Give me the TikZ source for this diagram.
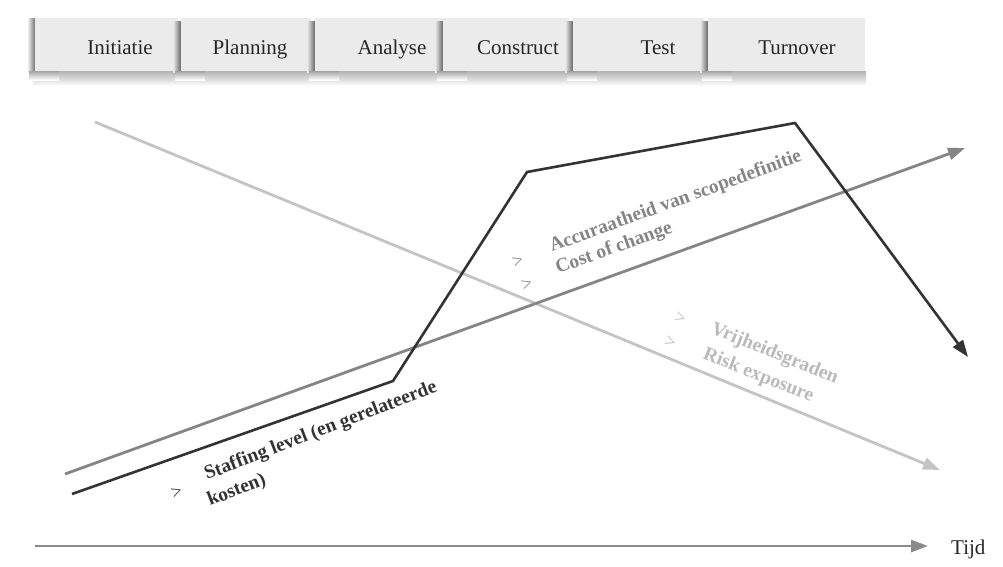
\documentclass[tikz,border=0pt]{standalone}
\usepackage{fontspec}
\setmainfont{Liberation Serif}
\usetikzlibrary{arrows.meta}
\definecolor{boxgray}{HTML}{EBEBEB}
\definecolor{darkline}{HTML}{333333}
\definecolor{midline}{HTML}{858585}
\definecolor{lightline}{HTML}{C4C4C4}
\definecolor{axisline}{HTML}{8A8A8A}
\begin{document}
\begin{tikzpicture}[x=1pt,y=-1pt,
  phaselabel/.style={font=\fontsize{21}{24}\selectfont, text=black!85, inner sep=0pt, anchor=base},
  curvelabel/.style={font=\bfseries\fontsize{19.5}{22}\selectfont, inner sep=0pt, anchor=base west},
  marker/.style={font=\fontsize{19}{20}\selectfont, inner sep=0pt},
  staffline/.style={draw=darkline, line width=2.6pt, line join=miter, -{Triangle[length=17pt,width=12pt]}},
  costline/.style={draw=midline, line width=2.8pt, -{Triangle[length=17pt,width=12pt]}},
  freeline/.style={draw=lightline, line width=2.8pt, -{Triangle[length=17pt,width=12pt]}},
  axisstyle/.style={draw=axisline, line width=2.8pt, -{Triangle[length=17pt,width=12pt]}}
]
\useasboundingbox (0,0) rectangle (1003,566);
\fill[white] (0,0) rectangle (1003,566);

% bottom shadow of the phase bar
\shade[top color=black!30, bottom color=white] (33,71) rectangle (866,86);

% phase boxes
\foreach \i/\l/\r/\c/\t in
  {1/35/178/120/Initiatie, 2/181/311/250/Planning, 3/315/443/392/Analyse,
   4/443/569/518/Construct, 5/573/704/658/Test, 6/708/865/797/Turnover}{
  \ifnum\i=1
    \shade[left color=white, right color=black!55] (\l-8,18) rectangle (\l,72);
  \else
    \shade[left color=boxgray, right color=black!60] (\l-8,21) rectangle (\l,72);
  \fi
  \shade[top color=black!36, bottom color=white] (\l-6,71) rectangle (\l+24,80);
  \fill[boxgray] (\l,18) rectangle (\r,71);
  \node[phaselabel] (p\i) at (\c,54) {\t};
}

% curves
\coordinate (s0) at (72,494);
\coordinate (s1) at (393,381);
\coordinate (s2) at (527,172);
\coordinate (s3) at (795,123);
\coordinate (s4) at (968,357);
\coordinate (c0) at (65,474);
\coordinate (c1) at (965,148);
\coordinate (f0) at (95,122);
\coordinate (f1) at (940,470);
\coordinate (t0) at (35,546);
\coordinate (t1) at (928,546);

\draw[freeline] (f0) -- (f1);
\draw[costline] (c0) -- (c1);
\draw[staffline] (s0) -- (s1) -- (s2) -- (s3) -- (s4);
\draw[axisstyle] (t0) -- (t1);
\node[font=\fontsize{21}{24}\selectfont, text=black!85, inner sep=0pt, anchor=base west] (tijd) at (951,554) {Tijd};

% labels
\node[curvelabel, text=midline, rotate=20] (acc) at (552,252) {Accuraatheid van scopedefinitie};
\node[curvelabel, text=midline, rotate=20] (coc) at (558,274) {Cost of change};
\node[marker, text=midline, rotate=20] (m1) at (518,262) {>};
\node[marker, text=midline, rotate=20] (m2) at (527,285) {>};

\node[curvelabel, text=lightline!95!black, rotate=-22] (vri) at (710,333) {Vrijheidsgraden};
\node[curvelabel, text=lightline!95!black, rotate=-22] (rsk) at (702,358) {Risk exposure};
\node[marker, text=lightline!95!black, rotate=-22] (m3) at (680,318) {>};
\node[marker, text=lightline!95!black, rotate=-22] (m4) at (670,342) {>};

\node[curvelabel, text=darkline, rotate=21] (stf) at (207,480) {Staffing level (en gerelateerde};
\node[curvelabel, text=darkline, rotate=21] (kst) at (210,506) {kosten)};
\node[marker, text=darkline, rotate=21] (m5) at (177,492) {>};
\end{tikzpicture}
\end{document}
